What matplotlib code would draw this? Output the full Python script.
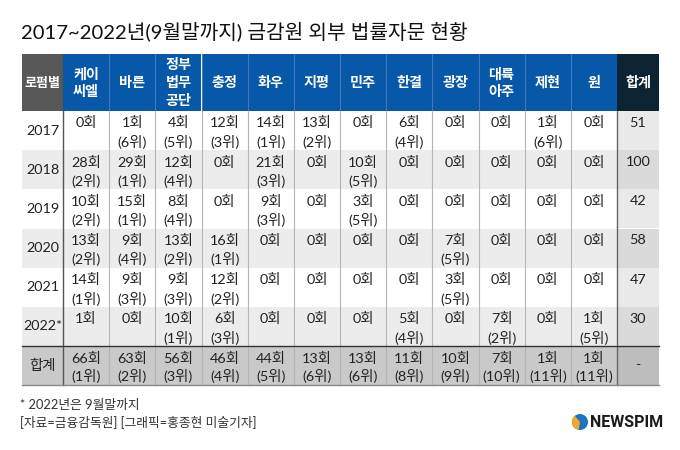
import numpy as np
import matplotlib
matplotlib.use('Agg')
import matplotlib.pyplot as plt
from matplotlib.patches import Rectangle, Circle, Wedge

plt.rcParams['font.family'] = ['Lato', 'Noto Sans CJK KR', 'DejaVu Sans']

# ============================================================
# 데이터
# ============================================================
title = '2017~2022년(9월말까지) 금감원 외부 법률자문 현황'
corner_label = '로펌별'
firms = ['케이\n씨엘', '바른', '정부\n법무\n공단', '충정', '화우', '지평',
         '민주', '한결', '광장', '대륙\n아주', '제현', '원']
total_label = '합계'
years = ['2017', '2018', '2019', '2020', '2021', '2022*']

counts = [
    [0, 1, 4, 12, 14, 13, 0, 6, 0, 0, 1, 0],
    [28, 29, 12, 0, 21, 0, 10, 0, 0, 0, 0, 0],
    [10, 15, 8, 0, 9, 0, 3, 0, 0, 0, 0, 0],
    [13, 9, 13, 16, 0, 0, 0, 0, 7, 0, 0, 0],
    [14, 9, 9, 12, 0, 0, 0, 0, 3, 0, 0, 0],
    [1, 0, 10, 6, 0, 0, 0, 5, 0, 7, 0, 1],
]
ranks = [
    [None, 6, 5, 3, 1, 2, None, 4, None, None, 6, None],
    [2, 1, 4, None, 3, None, 5, None, None, None, None, None],
    [2, 1, 4, None, 3, None, 5, None, None, None, None, None],
    [2, 4, 2, 1, None, None, None, None, 5, None, None, None],
    [1, 3, 3, 2, None, None, None, None, 5, None, None, None],
    [None, None, 1, 3, None, None, None, 4, None, 2, None, 5],
]
year_totals = [51, 100, 42, 58, 47, 30]
firm_totals = [66, 63, 56, 46, 44, 13, 13, 11, 10, 7, 1, 1]
firm_total_ranks = [1, 2, 3, 4, 5, 6, 6, 8, 9, 10, 11, 11]
grand_total = '-'

footnote = '* 2022년은 9월말까지'
source = '[자료=금융감독원] [그래픽=홍종현 미술기자]'

# ============================================================
# 레이아웃 (픽셀 좌표)
# ============================================================
X0, X1 = 22, 63          # 첫 열
COL_W = (617 - 63) / 12  # 데이터 열 폭
XT = 617                 # 합계 열 시작
X_END = 659
Y_HEAD0, Y_HEAD1 = 54, 111
ROW_H = (346 - 111) / 6
Y_TOT1 = 385

C_BLUE = '#0758a8'
C_CORNER = '#585858'
C_NAVY = '#0c2333'
C_STRIPE = '#ececec'
C_TOTCOL = ['#e9e9e9', '#dadada']
C_TOTROW = '#c9c9c9'
C_TEXT = '#222222'

fig = plt.figure(figsize=(6.8, 4.5), dpi=100)
ax = fig.add_axes([0, 0, 1, 1])
ax.set_xlim(0, 680)
ax.set_ylim(450, 0)
ax.axis('off')

FS = 10.4
HEAD_FS = 10.2
LINE_H = 17.5

def col_x(j):
    return X1 + j * COL_W

def header_text(cx, label, fs):
    lines = label.split('\n')
    mid = (Y_HEAD0 + Y_HEAD1) / 2
    for k, ln in enumerate(lines):
        cy = mid + (k - (len(lines) - 1) / 2) * LINE_H
        ax.text(cx, cy, ln, color='white', fontsize=fs, fontweight='bold',
                ha='center', va='center')

# 제목
ax.text(X0 - 1, 31, title, fontsize=14.6, color='#111111', va='center', ha='left')

# 헤더
ax.add_patch(Rectangle((X0, Y_HEAD0), X1 - X0, Y_HEAD1 - Y_HEAD0, fc=C_CORNER, ec='none'))
header_text((X0 + X1) / 2, corner_label, 9.4)
for j, name in enumerate(firms):
    x = col_x(j)
    ax.add_patch(Rectangle((x, Y_HEAD0), COL_W, Y_HEAD1 - Y_HEAD0, fc=C_BLUE, ec='none'))
    header_text(x + COL_W / 2, name, HEAD_FS)
ax.add_patch(Rectangle((XT, Y_HEAD0), X_END - XT, Y_HEAD1 - Y_HEAD0, fc=C_NAVY, ec='none'))
header_text((XT + X_END) / 2, total_label, HEAD_FS)

# 본문
for i, yr in enumerate(years):
    y = Y_HEAD1 + i * ROW_H
    if i % 2 == 1:
        ax.add_patch(Rectangle((X0, y), XT - X0, ROW_H, fc=C_STRIPE, ec='none'))
    ax.add_patch(Rectangle((XT, y), X_END - XT, ROW_H, fc=C_TOTCOL[i % 2], ec='none'))
    ax.text((X0 + X1) / 2, y + ROW_H / 2, yr, fontsize=FS, color=C_TEXT,
            ha='center', va='center')
    for j in range(len(firms)):
        cx = col_x(j) + COL_W / 2
        ax.text(cx, y + 12, f'{counts[i][j]}회', fontsize=FS, color=C_TEXT,
                ha='center', va='center')
        if ranks[i][j] is not None:
            ax.text(cx, y + 31, f'({ranks[i][j]}위)', fontsize=FS, color=C_TEXT,
                    ha='center', va='center')
    ax.text((XT + X_END) / 2, y + 12, str(year_totals[i]), fontsize=FS, color=C_TEXT,
            ha='center', va='center')

# 합계 행
y = Y_HEAD1 + 6 * ROW_H
ax.add_patch(Rectangle((X0, y), X_END - X0, Y_TOT1 - y, fc=C_TOTROW, ec='none'))
ax.add_patch(Rectangle((XT, y), X_END - XT, Y_TOT1 - y, fc='#bdbdbd', ec='none'))
ax.text((X0 + X1) / 2, (y + Y_TOT1) / 2, total_label, fontsize=FS, color=C_TEXT,
        ha='center', va='center')
for j in range(len(firms)):
    cx = col_x(j) + COL_W / 2
    ax.text(cx, y + 12, f'{firm_totals[j]}회', fontsize=FS, color=C_TEXT,
            ha='center', va='center')
    ax.text(cx, y + 30, f'({firm_total_ranks[j]}위)', fontsize=FS, color=C_TEXT,
            ha='center', va='center')
ax.text((XT + X_END) / 2, (y + Y_TOT1) / 2, grand_total, fontsize=FS, color=C_TEXT,
        ha='center', va='center')

# 선
for j in range(1, len(firms)):
    x = col_x(j)
    ax.plot([x, x], [Y_HEAD0, Y_HEAD1], color='#3f78bd', lw=0.8)
    ax.plot([x, x], [Y_HEAD1, Y_TOT1], color='#b5b5b5', lw=0.8)
ax.plot([X1, X1], [Y_HEAD1, Y_TOT1], color='#555555', lw=1.0)
ax.plot([XT, XT], [Y_HEAD1, Y_TOT1], color='#666666', lw=1.0)
ax.plot([X0, X_END], [y, y], color='#333333', lw=1.0)
ax.plot([X0, X_END], [Y_TOT1, Y_TOT1], color='#8a8a8a', lw=1.0)

# 각주
ax.text(X0 - 2, 405, footnote, fontsize=9.2, color='#333333', ha='left', va='center')
ax.text(X0 - 2, 422, source, fontsize=9.2, color='#333333', ha='left', va='center')

# 로고
ax.add_patch(Circle((580, 422), 8, fc='#1f73c6', ec='none'))
ax.add_patch(Wedge((580, 422), 8, 100, 230, fc='#f5a623', ec='none'))
ax.text(590, 422.5, 'NEWSPIM', fontsize=11.5, fontweight='bold', color='#1a1a1a',
        family=['Roboto', 'DejaVu Sans'], ha='left', va='center')

fig.savefig('out.png', dpi=100)
